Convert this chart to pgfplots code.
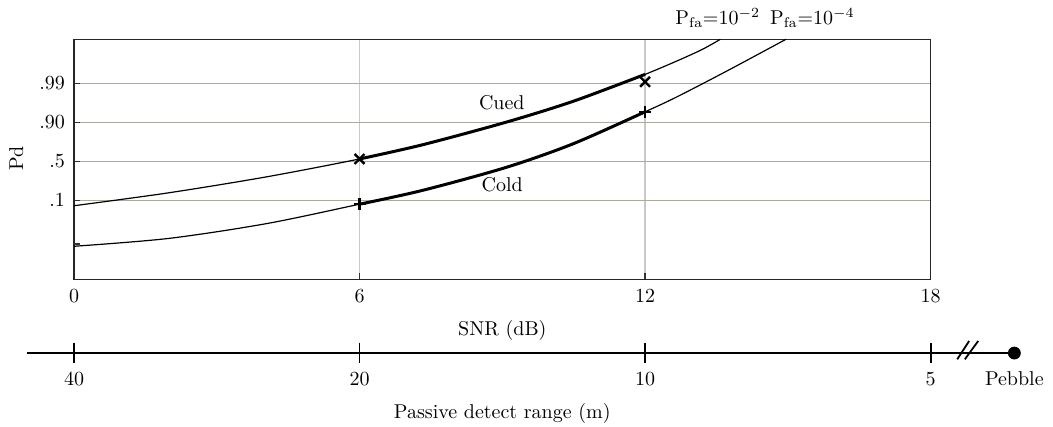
\documentclass[border=0pt]{standalone}
\usepackage{pgfplots}
\pgfplotsset{compat=1.18}
\definecolor{gridh}{RGB}{172,170,160}
\definecolor{gridv}{RGB}{204,200,195}
\begin{document}
\begin{tikzpicture}
\begin{axis}[
  scale only axis, width=428.3pt, height=120.05pt,
  xmin=0, xmax=18, ymin=-1.03, ymax=5.13,
  clip=false,
  axis line style={line width=0.7pt, black!85},
  xtick={0,6,12,18}, ytick={1,2,3,4}, yticklabels={.1,.5,.90,.99},
  xtick pos=bottom, ytick pos=left, tick align=inside,
  major tick length=3pt,
  every tick/.style={black!80, line width=0.6pt},
  extra y ticks={-0.12}, extra y tick labels={}, extra y tick style={grid=none},
  xmajorgrids, ymajorgrids,
  x grid style={gridv, line width=0.6pt},
  y grid style={gridh, line width=0.6pt},
  xticklabel style={anchor=base, yshift=-11.5pt},
  yticklabel style={xshift=-1pt},
  xlabel={SNR (dB)}, xlabel style={at={(axis description cs:0.5,-0.2324)}, anchor=base},
  ylabel={Pd}, ylabel style={at={(axis description cs:-0.0675,0.504)}, anchor=center},
]
% Cued (P_fa = 10^-2)
\addplot[black, line width=0.6pt, smooth] coordinates {(0,0.86) (1.98,1.19) (4.04,1.60) (6,2.06) (7.31,2.42) (9.07,3.00) (10.49,3.54) (12,4.23) (13.10,4.81) (13.58,5.13)};
\addplot[black, line width=1.5pt, smooth] coordinates {(6,2.06) (7.31,2.42) (9.07,3.00) (10.49,3.54) (12,4.23)};
% Cold (P_fa = 10^-4)
\addplot[black, line width=0.6pt, smooth] coordinates {(0,-0.18) (1.98,0.02) (4.04,0.40) (6,0.90) (7.31,1.25) (9.07,1.84) (10.49,2.45) (12,3.27) (12.68,3.66) (13.74,4.33) (14.96,5.13)};
\addplot[black, line width=1.5pt, smooth] coordinates {(6,0.90) (7.31,1.25) (9.07,1.84) (10.49,2.45) (12,3.27)};
% marks
\addplot[black, only marks, mark=x, mark size=3.5pt, mark options={line width=1.2pt}] coordinates {(6,2.06) (12,4.04)};
\addplot[black, only marks, mark=+, mark size=3pt, mark options={line width=1.2pt}] coordinates {(6,0.90) (12,3.27)};
% labels
\node at (axis cs:8.99,3.51) {Cued};
\node at (axis cs:9.0,1.39) {Cold};
\node[anchor=base west, inner sep=0] at (axis cs:12.63,5.50) {$\mathrm{P_{fa}}{=}10^{-2}$};
\node[anchor=base west, inner sep=0] at (axis cs:14.62,5.50) {$\mathrm{P_{fa}}{=}10^{-4}$};
% range number line
\addplot[black, line width=0.9pt] coordinates {(-0.99,-2.92) (19.76,-2.92)};
\addplot[black, only marks, mark=|, mark size=5.2pt, mark options={line width=0.9pt}] coordinates {(0,-2.92) (6,-2.92) (12,-2.92) (18,-2.92)};
\addplot[black, only marks, mark=*, mark size=3pt, mark options={fill=black, draw=black}] coordinates {(19.76,-2.92)};
\draw[line width=0.9pt] (axis cs:18.56,-3.08) -- (axis cs:18.81,-2.61);
\draw[line width=0.9pt] (axis cs:18.72,-3.08) -- (axis cs:19.00,-2.61);
\node[anchor=base] at (axis cs:0,-3.74) {40};
\node[anchor=base] at (axis cs:6,-3.74) {20};
\node[anchor=base] at (axis cs:12,-3.74) {10};
\node[anchor=base] at (axis cs:18,-3.74) {5};
\node[anchor=base] at (axis cs:19.76,-3.74) {Pebble};
\node[anchor=base] at (axis cs:9.0,-4.61) {Passive detect range (m)};
\coordinate (bbSW) at (rel axis cs:-0.08639,-0.6106);
\coordinate (bbNE) at (rel axis cs:1.14290,1.1637);
\end{axis}
\pgfresetboundingbox
\path[use as bounding box] (bbSW) rectangle (bbNE);
\end{tikzpicture}
\end{document}
